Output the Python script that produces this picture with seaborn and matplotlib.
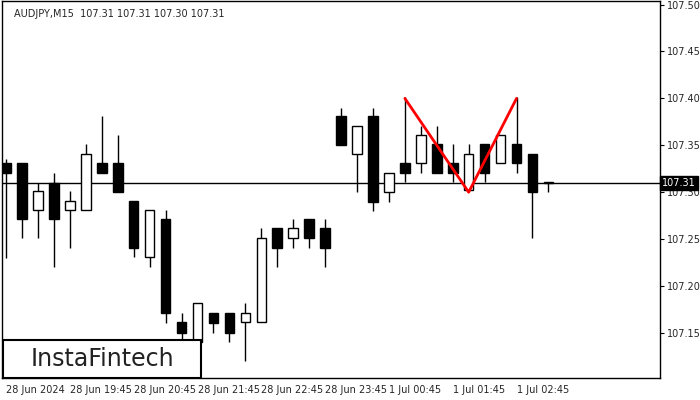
import numpy as np
import matplotlib
matplotlib.use("Agg")
import matplotlib.pyplot as plt
from matplotlib.patches import Rectangle
import seaborn as sns

# AUDJPY M15 candles
opens = [107.331, 107.331, 107.281, 107.310, 107.281, 107.281, 107.331, 107.331, 107.291, 107.231,
         107.271, 107.162, 107.140, 107.171, 107.171, 107.162, 107.162, 107.262, 107.251, 107.271,
         107.262, 107.381, 107.341, 107.381, 107.300, 107.331, 107.331, 107.351, 107.331, 107.302,
         107.351, 107.331, 107.351, 107.341, 107.310]
highs = [107.335, 107.331, 107.310, 107.321, 107.301, 107.351, 107.381, 107.361, 107.291, 107.281,
         107.281, 107.171, 107.182, 107.171, 107.171, 107.182, 107.262, 107.262, 107.271, 107.271,
         107.271, 107.390, 107.371, 107.390, 107.321, 107.401, 107.371, 107.371, 107.351, 107.351,
         107.351, 107.361, 107.401, 107.341, 107.310]
lows = [107.230, 107.251, 107.251, 107.220, 107.241, 107.281, 107.320, 107.300, 107.231, 107.220,
        107.161, 107.137, 107.130, 107.150, 107.140, 107.120, 107.162, 107.220, 107.241, 107.241,
        107.220, 107.350, 107.300, 107.280, 107.290, 107.311, 107.320, 107.320, 107.311, 107.302,
        107.311, 107.331, 107.320, 107.251, 107.300]
closes = [107.320, 107.271, 107.301, 107.271, 107.291, 107.341, 107.320, 107.300, 107.241, 107.281,
          107.171, 107.150, 107.182, 107.161, 107.150, 107.171, 107.251, 107.241, 107.262, 107.251,
          107.241, 107.350, 107.371, 107.290, 107.321, 107.320, 107.361, 107.320, 107.320, 107.341,
          107.320, 107.361, 107.331, 107.300, 107.310]

tick_idx = [0, 4, 8, 12, 16, 20, 24, 28, 32]
tick_labels = ["28 Jun 2024", "28 Jun 19:45", "28 Jun 20:45", "28 Jun 21:45", "28 Jun 22:45",
               "28 Jun 23:45", "1 Jul 00:45", "1 Jul 01:45", "1 Jul 02:45"]
y_ticks = [107.15, 107.20, 107.25, 107.30, 107.35, 107.40, 107.45, 107.50]

pattern_x = [25, 29, 32]
pattern_y = [107.40, 107.30, 107.40]
last_price = 107.31

sns.set_style("white")
plt.rcParams["font.family"] = ["DejaVu Sans"]

fig = plt.figure(figsize=(7, 4), dpi=100)
ax = fig.add_axes([0.003, 0.055, 0.94, 0.943])

x = np.arange(len(opens))
o = np.array(opens)
c = np.array(closes)
ax.vlines(x, lows, highs, color="black", lw=1, zorder=2)
up = c >= o
bottom = np.minimum(o, c)
height = np.maximum(np.abs(c - o), 0.0005)
ax.bar(x[up], height[up], bottom=bottom[up], width=0.6, facecolor="white",
       edgecolor="black", lw=1, zorder=3)
ax.bar(x[~up], height[~up], bottom=bottom[~up], width=0.6, facecolor="black",
       edgecolor="black", lw=1, zorder=3)

ax.axhline(last_price, color="black", lw=1, zorder=1)
sns.lineplot(x=pattern_x, y=pattern_y, color="red", lw=2, ax=ax, zorder=4)

ax.set_xlim(-0.25, 41)
ax.set_ylim(107.102, 107.504)
ax.yaxis.tick_right()
ax.set_yticks(y_ticks)
ax.set_yticklabels([f"{v:.2f}" for v in y_ticks], fontsize=7)
ax.set_xticks(tick_idx)
ax.set_xticklabels(tick_labels, fontsize=7, ha="left")
ax.tick_params(axis="both", length=3, color="black", direction="out", pad=2)
for s in ax.spines.values():
    s.set_color("black")
    s.set_linewidth(1)

ax.text(0.5, 107.49, "AUDJPY,M15  107.31 107.31 107.30 107.31", fontsize=7, va="center")

# current price tag on the right axis
ax.text(1.003, last_price, "107.31", transform=ax.get_yaxis_transform(), fontsize=7,
        color="white", va="center", ha="left",
        bbox=dict(boxstyle="square,pad=0.2", fc="black", ec="black"))

# logo box
ax.add_patch(Rectangle((0.002, 0.0), 0.3, 0.1, transform=ax.transAxes, fc="white",
                       ec="black", lw=1.5, zorder=5))
ax.text(0.152, 0.05, "InstaFintech", transform=ax.transAxes, fontsize=17, color="#222222",
        ha="center", va="center", zorder=6)

fig.savefig("out.png", dpi=100)
